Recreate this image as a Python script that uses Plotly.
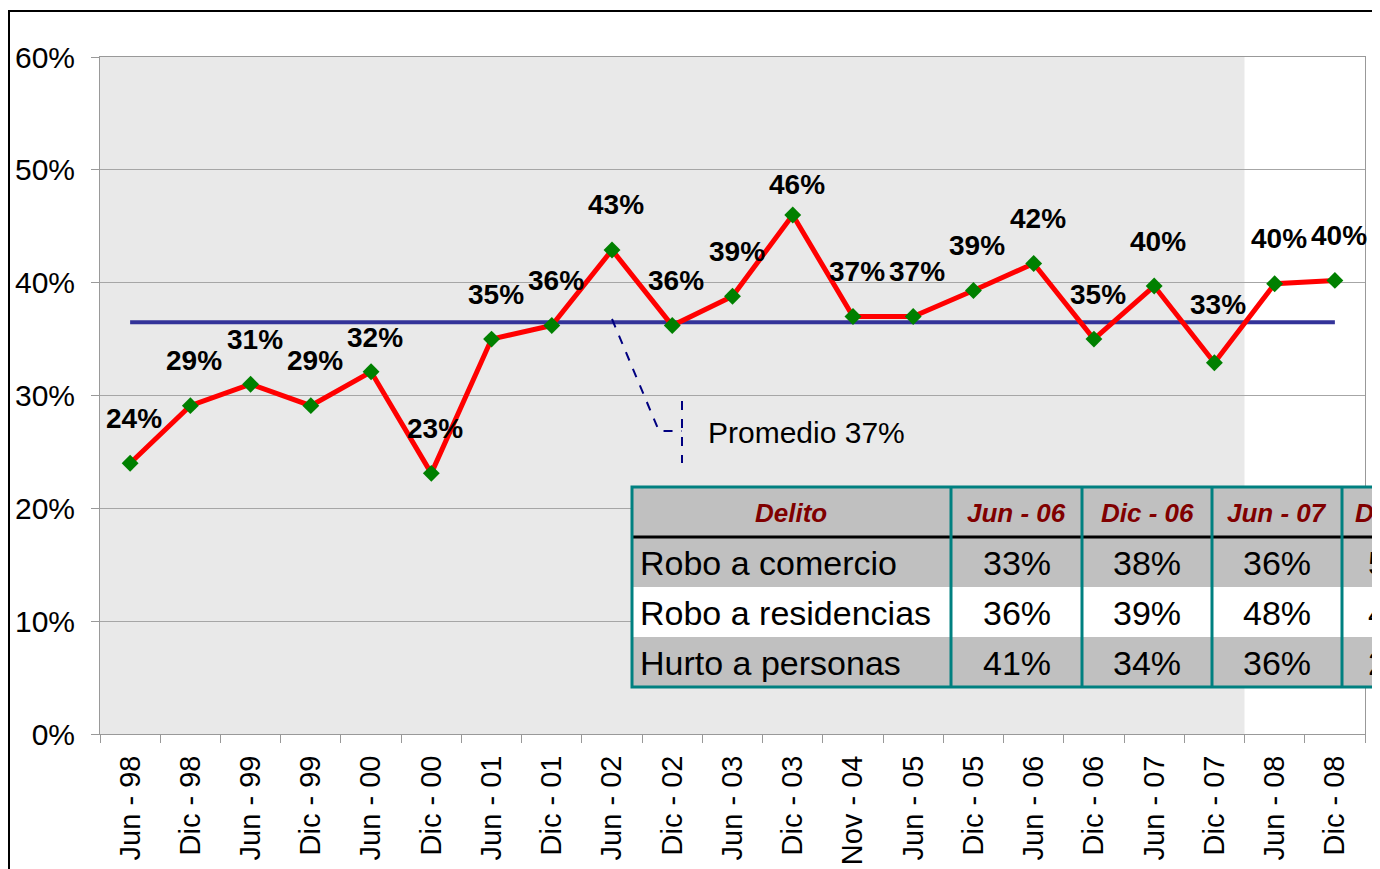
import plotly.graph_objects as go

# Datos del gráfico
periodos = ["Jun - 98", "Dic - 98", "Jun - 99", "Dic - 99", "Jun - 00", "Dic - 00",
            "Jun - 01", "Dic - 01", "Jun - 02", "Dic - 02", "Jun - 03", "Dic - 03",
            "Nov - 04", "Jun - 05", "Dic - 05", "Jun - 06", "Dic - 06", "Jun - 07",
            "Dic - 07", "Jun - 08", "Dic - 08"]
valores = [0.24, 0.291, 0.31, 0.291, 0.321, 0.231, 0.35, 0.362, 0.429, 0.362, 0.388,
           0.46, 0.37, 0.37, 0.393, 0.417, 0.35, 0.397, 0.329, 0.399, 0.402]
promedio = 0.365

# Tabla de delitos
encabezados = ["Delito", "Jun - 06", "Dic - 06", "Jun - 07", "Dic - 07"]
delitos = ["Robo a comercio", "Robo a residencias", "Hurto a personas"]
tabla_valores = [["33%", "38%", "36%", "52%"],
                 ["36%", "39%", "48%", "43%"],
                 ["41%", "34%", "36%", "24%"]]

FONT = "Liberation Sans, Arial, sans-serif"
W, H = 1380, 869
OFF = 8  # margen del body de la pagina
L, R, T, B = 100 - OFF, 23, 57 - OFF, 143


def px_x(p):
    return (p - OFF - L) / (W - L - R)


def px_y(p):
    return (H - B - (p - OFF)) / (H - T - B)


fig = go.Figure()

# linea de promedio
fig.add_trace(go.Scatter(x=periodos, y=[promedio] * len(periodos), mode="lines",
                         line=dict(color="#333399", width=4), hoverinfo="skip"))

# serie principal
fig.add_trace(go.Scatter(x=periodos, y=valores, mode="lines+markers",
                         line=dict(color="#FF0000", width=5),
                         marker=dict(symbol="diamond", size=13, color="#008000")))

# etiquetas de datos (algunas desplazadas como en el original)
shift_y = {4: 34, 11: 30, 18: 58}
annotations = []
for i, (p, v) in enumerate(zip(periodos, valores)):
    annotations.append(dict(x=p, y=v, xref="x", yref="y", text=f"<b>{round(v * 100):.0f}%</b>",
                            showarrow=False, xshift=4, yshift=shift_y.get(i, 45),
                            xanchor="center", yanchor="middle",
                            font=dict(family=FONT, size=28, color="black")))

annotations.append(dict(x=px_x(706), y=px_y(432), xref="paper", yref="paper", xanchor="left",
                        yanchor="middle", text="Promedio 37%", showarrow=False,
                        font=dict(family=FONT, size=30, color="black")))

shapes = []
# fondo gris del área de trazado
shapes.append(dict(type="rect", xref="x", yref="paper", x0=-0.5, x1=18.5, y0=0, y1=1,
                   fillcolor="#E9E9E9", line=dict(width=0), layer="below"))
# borde exterior
shapes.append(dict(type="rect", xref="paper", yref="paper", x0=px_x(9), y0=px_y(11),
                   x1=px_x(1420), y1=px_y(920), line=dict(color="black", width=2)))
# guia del promedio
shapes.append(dict(type="path", xref="paper", yref="paper",
                   path=f"M {px_x(612)},{px_y(319)} L {px_x(659)},{px_y(431)} L {px_x(682)},{px_y(431)}",
                   line=dict(color="#000080", width=2, dash="dash")))
shapes.append(dict(type="line", xref="paper", yref="paper", x0=px_x(682), x1=px_x(682),
                   y0=px_y(401), y1=px_y(463), line=dict(color="#000080", width=2, dash="dash")))

# tabla
col_x = [632, 951, 1082, 1212, 1342, 1462]
row_y = [487, 537, 587, 637, 687]
fills = ["#C0C0C0", "#C0C0C0", "#FFFFFF", "#C0C0C0"]
for r in range(4):
    shapes.append(dict(type="rect", xref="paper", yref="paper",
                       x0=px_x(col_x[0]), x1=px_x(col_x[-1]), y0=px_y(row_y[r]), y1=px_y(row_y[r + 1]),
                       fillcolor=fills[r], line=dict(width=0), layer="above"))
shapes.append(dict(type="line", xref="paper", yref="paper", x0=px_x(col_x[0]), x1=px_x(col_x[-1]),
                   y0=px_y(row_y[1]), y1=px_y(row_y[1]), line=dict(color="black", width=3)))
for cx in col_x[1:-1]:
    shapes.append(dict(type="line", xref="paper", yref="paper", x0=px_x(cx), x1=px_x(cx),
                       y0=px_y(row_y[0]), y1=px_y(row_y[-1]), line=dict(color="#008080", width=3)))
shapes.append(dict(type="rect", xref="paper", yref="paper", x0=px_x(col_x[0]), x1=px_x(col_x[-1]),
                   y0=px_y(row_y[0]), y1=px_y(row_y[-1]), line=dict(color="#008080", width=3)))

for c, h in enumerate(encabezados):
    cx = (col_x[c] + col_x[c + 1]) / 2
    annotations.append(dict(x=px_x(cx), y=px_y((row_y[0] + row_y[1]) / 2 + 1), xref="paper", yref="paper",
                            xanchor="center", yanchor="middle",
                            text=f"<b><i>{h}</i></b>", showarrow=False,
                            font=dict(family=FONT, size=26, color="#800000")))
for r, nombre in enumerate(delitos):
    cy = px_y((row_y[r + 1] + row_y[r + 2]) / 2 + 1)
    annotations.append(dict(x=px_x(638), y=cy, xref="paper", yref="paper", xanchor="left",
                            yanchor="middle", text=nombre, showarrow=False,
                            font=dict(family=FONT, size=34, color="black")))
    for c, val in enumerate(tabla_valores[r]):
        cx = (col_x[c + 1] + col_x[c + 2]) / 2
        annotations.append(dict(x=px_x(cx), y=cy, xref="paper", yref="paper",
                                xanchor="center", yanchor="middle",
                                text=val, showarrow=False,
                                font=dict(family=FONT, size=34, color="black")))

fig.update_xaxes(type="category", tickson="boundaries", ticks="outside", ticklen=8,
                 tickcolor="#999999", tickangle=-90, showgrid=False, showline=True,
                 linecolor="#999999", mirror=True, range=[-0.5, 20.5], ticklabelstandoff=9,
                 automargin=False, tickfont=dict(family=FONT, size=29, color="black"))
fig.update_yaxes(range=[0, 0.6], dtick=0.1, tickformat=".0%", ticks="outside", ticklen=8,
                 tickcolor="#999999", showgrid=True, gridcolor="#A6A6A6", gridwidth=1,
                 showline=True, linecolor="#999999", mirror=True, zeroline=False,
                 automargin=False, ticklabelstandoff=10,
                 tickfont=dict(family=FONT, size=30, color="black"))

fig.update_layout(width=W, height=H, margin=dict(l=L, r=R, t=T, b=B),
                  paper_bgcolor="white", plot_bgcolor="white", showlegend=False,
                  shapes=shapes, annotations=annotations)

fig.write_html("out.html")
